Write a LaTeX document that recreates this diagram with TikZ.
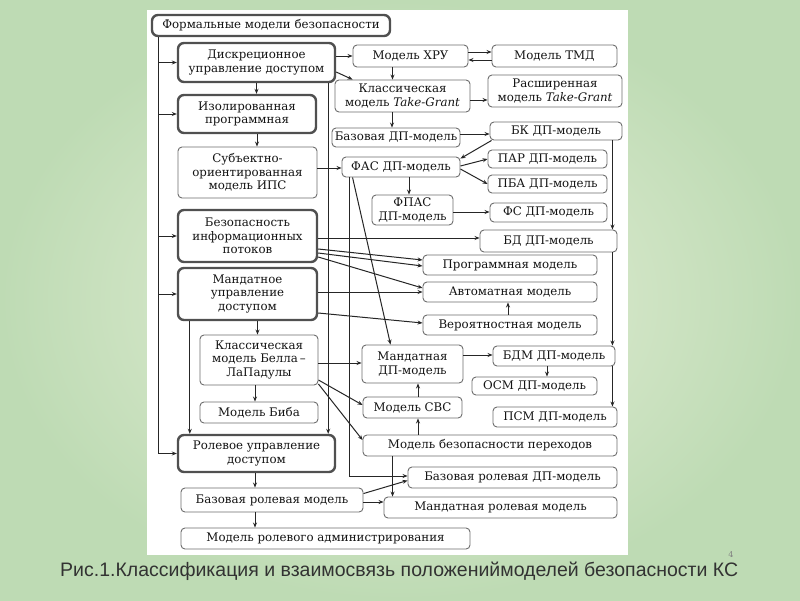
\documentclass[tikz,border=0pt]{standalone}
\usepackage{fontspec}
\setmainfont{DejaVu Serif}
\newfontfamily\capfont{Liberation Sans}
\usetikzlibrary{arrows.meta}
\definecolor{bgg}{RGB}{190,219,180}
\definecolor{bgl}{RGB}{232,240,218}
\definecolor{thinb}{RGB}{110,110,110}
\definecolor{thickb}{RGB}{80,80,80}
\definecolor{capc}{RGB}{50,50,50}
\begin{document}
\begin{tikzpicture}[x=1pt,y=-1pt,
  bx/.style={draw=thinb, line width=0.9pt, rounded corners=4pt, fill=white, align=center, inner sep=0pt, text=black!92, font=\fontsize{11.8}{13.5}\selectfont},
  tb/.style={bx, draw=thickb, line width=2.4pt, rounded corners=6pt},
  ar/.style={draw=black!85, line width=1pt, -{Stealth[length=5pt,width=4pt]}},
  ln/.style={draw=black!85, line width=1pt}]
\useasboundingbox (0,0) rectangle (800,600);
\shade[inner color=bgl, outer color=bgg] (0,0) rectangle (800,600);
\fill[white] (147,10) rectangle (628,555);

% left column
\node[tb, minimum width=238pt, minimum height=21pt] (form) at (271,25.5) {Формальные модели безопасности};
\node[tb, minimum width=157pt, minimum height=39pt] (disc) at (256.5,62.5) {Дискреционное\\управление доступом};
\node[tb, minimum width=138pt, minimum height=38pt] (izol) at (247,114) {Изолированная\\программная};
\node[bx, minimum width=139pt, minimum height=51pt] (subj) at (247.5,172.5) {Субъектно-\\ориентированная\\модель ИПС};
\node[tb, minimum width=139pt, minimum height=52pt] (bezinf) at (247.5,236) {Безопасность\\информационных\\потоков};
\node[tb, minimum width=139pt, minimum height=52pt] (mand) at (247.5,294) {Мандатное\\управление\\доступом};
\node[bx, minimum width=118pt, minimum height=50pt] (bell) at (259,360) {Классическая\\модель Белла\,–\\ЛаПадулы};
\node[bx, minimum width=118pt, minimum height=21pt] (biba) at (259,412.5) {Модель Биба};
\node[tb, minimum width=157pt, minimum height=37pt] (rolev) at (256.5,453.5) {Ролевое управление\\доступом};
\node[bx, minimum width=182pt, minimum height=24pt] (bazrol) at (272,500) {Базовая ролевая модель};
\node[bx, minimum width=289pt, minimum height=21pt] (admin) at (325.5,538.5) {Модель ролевого администрирования};

% right part
\node[bx, minimum width=115pt, minimum height=22pt] (hru) at (410.5,56) {Модель ХРУ};
\node[bx, minimum width=125pt, minimum height=22pt] (tmd) at (554.5,56) {Модель ТМД};
\node[bx, minimum width=135pt, minimum height=32pt] (tg) at (402.5,96) {Классическая\\модель \textit{Take-Grant}};
\node[bx, minimum width=134pt, minimum height=32pt] (ext) at (555,91) {Расширенная\\модель \textit{Take-Grant}};
\node[bx, minimum width=128pt, minimum height=19pt] (bdp) at (396,137.5) {Базовая ДП-модель};
\node[bx, minimum width=132pt, minimum height=18pt] (bk) at (556,131) {БК ДП-модель};
\node[bx, minimum width=118pt, minimum height=20pt] (fas) at (401,167) {ФАС ДП-модель};
\node[bx, minimum width=119pt, minimum height=18pt] (par) at (547.5,159) {ПАР ДП-модель};
\node[bx, minimum width=119pt, minimum height=18pt] (pba) at (547.5,184) {ПБА ДП-модель};
\node[bx, minimum width=81pt, minimum height=30pt] (fpas) at (412.5,210) {ФПАС\\ДП-модель};
\node[bx, minimum width=117pt, minimum height=19pt] (fs) at (548.5,212.5) {ФС ДП-модель};
\node[bx, minimum width=137pt, minimum height=22pt] (bd) at (548.5,241) {БД ДП-модель};
\node[bx, minimum width=174pt, minimum height=20pt] (prog) at (510,265) {Программная модель};
\node[bx, minimum width=174pt, minimum height=20pt] (avt) at (510,292) {Автоматная модель};
\node[bx, minimum width=174pt, minimum height=20pt] (ver) at (510,325) {Вероятностная модель};
\node[bx, minimum width=101pt, minimum height=38pt] (mdp) at (412.5,364) {Мандатная\\ДП-модель};
\node[bx, minimum width=122pt, minimum height=20pt] (bdm) at (554,356) {БДМ ДП-модель};
\node[bx, minimum width=125pt, minimum height=18pt] (osm) at (534.5,386) {ОСМ ДП-модель};
\node[bx, minimum width=99pt, minimum height=21pt] (svs) at (412.5,407.5) {Модель СВС};
\node[bx, minimum width=124pt, minimum height=20pt] (psm) at (555,417) {ПСМ ДП-модель};
\node[bx, minimum width=254pt, minimum height=21pt] (mbp) at (490,445.5) {Модель безопасности переходов};
\node[bx, minimum width=209pt, minimum height=21pt] (brdp) at (512.5,477.5) {Базовая ролевая ДП-модель};
\node[bx, minimum width=233pt, minimum height=21pt] (mrm) at (500.5,507.5) {Мандатная ролевая модель};

% caption
\node[font=\capfont\fontsize{19.5}{22}\selectfont, text=capc, anchor=west, inner sep=0pt] (cap) at (60,571) {Рис.1.Классификация и взаимосвязь положениймоделей безопасности КС};
\node[font=\fontsize{8}{9}\selectfont, text=gray, inner sep=0pt] (pg) at (731,555) {4};

% spine
\coordinate (sp) at ([xshift=8pt]form.south west);
\draw[ar] (sp) |- (rolev.west);
\foreach \n in {disc,izol,bezinf,mand} \draw[ar] (sp |- \n.west) -- (\n.west);

% left vertical arrows
\draw[ar] (disc.south) -- (disc.south |- izol.north);
\draw[ar] ([xshift=10pt]izol.south) -- ([xshift=10pt]izol.south |- subj.north);
\draw[ar] ([xshift=10pt]mand.south) -- ([xshift=10pt]mand.south |- bell.north);
\draw[ar] ([xshift=-4pt]bell.south) -- ([xshift=-4pt]bell.south |- biba.north);
\draw[ar] ([xshift=-1.5pt]rolev.south) -- ([xshift=-1.5pt]rolev.south |- bazrol.north);
\draw[ar] ([xshift=-17pt]bazrol.south) -- ([xshift=-17pt]bazrol.south |- admin.north);
\draw[ar] ([xshift=13pt]mand.south west) -- ([xshift=13pt]mand.south west |- rolev.north);
\draw[ar] ([xshift=-8pt]disc.south east) -- ([xshift=-8pt]disc.south east |- rolev.north);

% top right
\draw[ar] (disc.east |- hru.west) -- (hru.west);
\draw[ar] ([yshift=-9.5pt]disc.east) -- ([xshift=18pt]tg.north west);
\draw[ar] ([yshift=4pt]hru.east) -- ([yshift=4pt]tmd.west);
\draw[ar] ([yshift=-4pt]tmd.west) -- ([yshift=-4pt]hru.east);
\draw[ar] ([xshift=-18pt]hru.south) -- ([xshift=-18pt]hru.south |- tg.north);
\draw[ar] ([yshift=-4pt]tg.east) -- ([yshift=-4pt]tg.east -| ext.west);
\draw[ar] ([xshift=-10.5pt]tg.south) -- ([xshift=-10.5pt]tg.south |- bdp.north);
\draw[ar] ([yshift=3.5pt]bdp.east) -- ([yshift=3.5pt]bdp.east -| bk.west);
\draw[ar] ([xshift=2pt]bk.south west) -- ([yshift=-2pt]fas.north east);
\draw[ar] ([yshift=1pt]fas.east) -- (par.west);
\draw[ar] ([yshift=-2pt]fas.east) -- (pba.west);
\draw[ar] ([xshift=8pt]fas.south) -- ([xshift=8pt]fas.south |- fpas.north);
\draw[ar] ([yshift=-2pt]fpas.east) -- ([yshift=-2pt]fpas.east -| fs.west);
\draw[ar] ([yshift=4.5pt]subj.east) -- ([yshift=4.5pt]subj.east -| fas.west);
\draw[ar] ([xshift=-10pt]bk.south east) -- ([xshift=-10pt]bk.south east |- bd.north);
\draw[ar] ([xshift=-5pt]bd.south east) -- ([xshift=-5pt]bd.south east |- bdm.north);
\draw[ar] ([xshift=-3pt]bdm.south east) -- ([xshift=-3pt]bdm.south east |- psm.north);
\draw[ar] ([xshift=-7pt]bdm.south) -- ([xshift=-7pt]bdm.south |- osm.north);

% information flows
\draw[ar] ([yshift=-2pt]bezinf.east) -- ([yshift=-2pt]bezinf.east -| bd.west);
\draw[ar] ([yshift=-13pt]bezinf.east) -- ([yshift=5pt]prog.west);
\draw[ar] ([yshift=-17pt]bezinf.east) -- ([yshift=-1pt]prog.west);
\draw[ar] ([yshift=-21pt]bezinf.east) -- ([yshift=4pt]avt.west);
\draw[ar] (mand.east |- avt.west) -- (avt.west);
\draw[ar] ([yshift=-19pt]mand.east) -- ([yshift=2pt]ver.west);
\draw[ar] ([xshift=-2pt]ver.north) -- ([xshift=-2pt]ver.north |- avt.south);

% mandatory part
\draw[ar] ([yshift=-3pt]bell.east) -- ([yshift=-3pt]bell.east -| mdp.west);
\draw[ar] ([yshift=-20pt]bell.east) -- ([yshift=2.5pt]svs.west);
\draw[ar] ([yshift=-24pt]bell.east) -- ([yshift=5.5pt]mbp.west);
\draw[ar] ([xshift=5.5pt]svs.north) -- ([xshift=5.5pt]svs.north |- mdp.south);
\draw[ar] ([xshift=5.5pt]svs.south |- mbp.north) -- ([xshift=5.5pt]svs.south);
\draw[ar] ([yshift=9pt]mdp.east) -- ([yshift=9pt]mdp.east -| bdm.west);
\draw[ar] ([xshift=30pt]mbp.south west) -- ([xshift=30pt]mbp.south west |- mrm.north);
\draw[ar] ([xshift=11pt]fas.south west) -- ([xshift=29pt]mdp.north west);
\draw[ar] ([xshift=8pt]fas.south west) |- ([yshift=1.5pt]brdp.west);

% role part
\draw[ar] ([yshift=-6pt]bazrol.north east) -- ([yshift=-3pt]brdp.west);
\draw[ar] ([yshift=-2pt]bazrol.east) -- ([yshift=-2pt]bazrol.east -| mrm.west);
\end{tikzpicture}
\end{document}
